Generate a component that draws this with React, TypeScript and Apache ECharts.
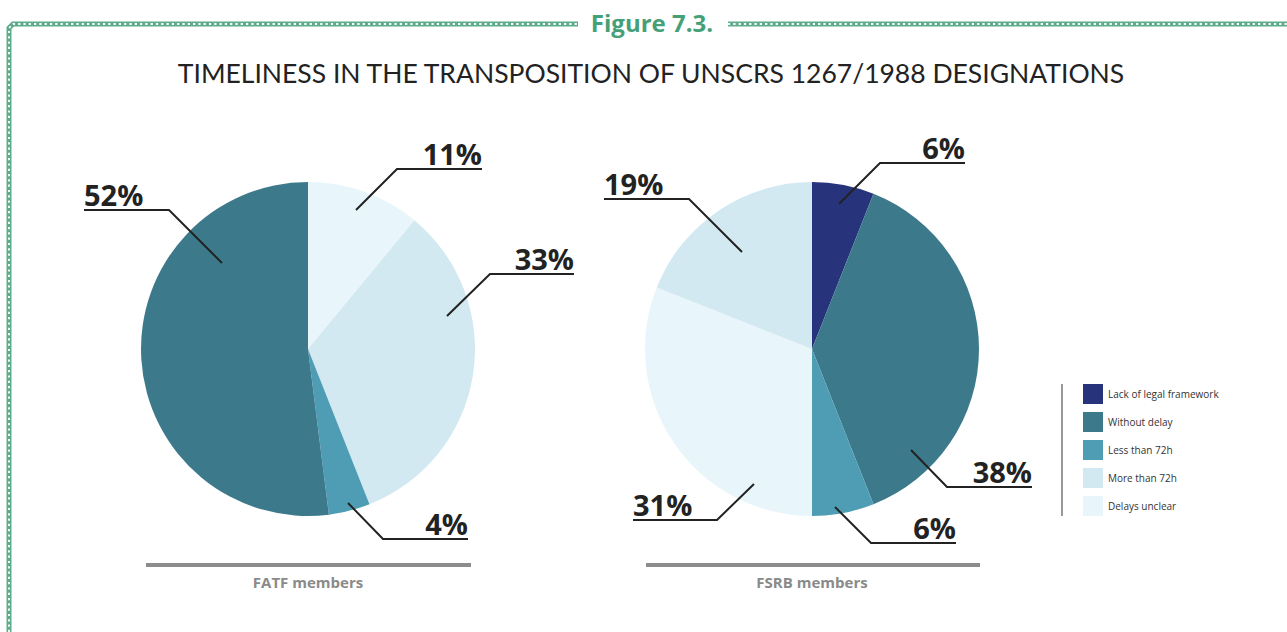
import React, { useEffect, useRef } from "react";
import * as echarts from "echarts";

const categories = ["Lack of legal framework", "Without delay", "Less than 72h", "More than 72h", "Delays unclear"];
const categoryColors = ["#27347c", "#3c7a8b", "#4f9db4", "#d3e9f1", "#e8f5fb"];

// FATF members, clockwise from 12 o'clock
const fatfNames = ["Delays unclear", "More than 72h", "Less than 72h", "Without delay"];
const fatfValues = [11, 33, 4, 52];

// FSRB members, clockwise from 12 o'clock
const fsrbNames = ["Lack of legal framework", "Without delay", "Less than 72h", "Delays unclear", "More than 72h"];
const fsrbValues = [6, 38, 6, 31, 19];

const titleText = "TIMELINESS IN THE TRANSPOSITION OF UNSCRS 1267/1988 DESIGNATIONS";
const figureText = "Figure 7.3.";
const groupLabels = ["FATF members", "FSRB members"];

// layout: pie centres and radius
const CENTERS = [[308, 349], [812, 349]];
const RADIUS = 167;
// leader layout relative to the pie centre: [start, elbow, end]
const LEADERS = [
  [[48, -139], [89, -180], [174, -180]],
  [[139, -33], [182, -75], [266, -75]],
  [[40, 154], [75, 190], [160, 190]],
  [[-86, -86], [-139, -139], [-224, -139]],
];
const LEADERS2 = [
  [[27, -145], [68, -186], [153, -186]],
  [[99, 101], [135, 138], [220, 138]],
  [[23, 158], [59, 194], [144, 194]],
  [[-58, 135], [-95, 171], [-179, 171]],
  [[-70, -97], [-123, -150], [-208, -150]],
];

const colorOf = (n: string) => categoryColors[categories.indexOf(n)];

function makeSeries(idx: number, names: string[], values: number[], leaders: number[][][]) {
  const [cx, cy] = CENTERS[idx];
  return {
    type: "pie",
    center: [cx, cy],
    radius: RADIUS,
    startAngle: 90,
    clockwise: true,
    silent: true,
    data: names.map((n, i) => ({ name: n, value: values[i], itemStyle: { color: colorOf(n) } })),
    itemStyle: { borderWidth: 0 },
    label: {
      show: true,
      position: "outside",
      formatter: "{c}%",
      fontFamily: "Open Sans",
      fontWeight: "bold",
      fontSize: 29,
      color: "#222222",
    },
    labelLine: { show: false },
    labelLayout: (p: any) => {
      const l = leaders[p.dataIndex];
      const right = l[2][0] > l[1][0];
      return {
        x: cx + l[2][0],
        y: cy + l[2][1] - 1,
        align: right ? "right" : "left",
        verticalAlign: "bottom",
      };
    },
  };
}

function leaderGraphics(idx: number, leaders: number[][][]) {
  const [cx, cy] = CENTERS[idx];
  return leaders.map((l) => ({
    type: "polyline",
    z: 10,
    shape: { points: l.map((q) => [cx + q[0], cy + q[1]]) },
    style: { stroke: "#222222", lineWidth: 2, fill: null },
  }));
}

export default function App() {
  const ref = useRef<HTMLDivElement>(null);
  useEffect(() => {
    if (!ref.current) return;
    const chart = echarts.init(ref.current, null, { renderer: "svg" });
    const green = "#5fac8b";
    const chainOuter = { stroke: green, lineWidth: 5, fill: null };
    const chainInner = { stroke: "#ffffff", lineWidth: 1.8, lineDash: [2.2, 3.1], fill: null };
    chart.setOption({
      animation: false,
      backgroundColor: "#ffffff",
      legend: {
        orient: "vertical",
        left: 1083,
        top: 384,
        padding: 0,
        itemWidth: 20,
        itemHeight: 20,
        itemGap: 8,
        icon: "rect",
        selectedMode: false,
        data: categories,
        textStyle: { fontFamily: "Open Sans", fontSize: 10, color: "#333333" },
      },
      graphic: [
        { type: "polyline", shape: { points: [[9, 632], [9, 28], [13, 24], [578, 24]] }, style: chainOuter, z: 1 },
        { type: "polyline", shape: { points: [[9, 632], [9, 28], [13, 24], [578, 24]] }, style: chainInner, z: 2 },
        { type: "line", shape: { x1: 728, y1: 24, x2: 1287, y2: 24 }, style: chainOuter, z: 1 },
        { type: "line", shape: { x1: 728, y1: 24, x2: 1287, y2: 24 }, style: chainInner, z: 2 },
        {
          type: "text", x: 652, y: 22, z: 3,
          style: { text: figureText, fill: "#46a077", font: "bold 24px 'Open Sans'", align: "center", verticalAlign: "middle" },
        },
        {
          type: "text", x: 651, y: 73, z: 3,
          style: { text: titleText, fill: "#222222", font: "26.5px Lato", align: "center", verticalAlign: "middle" },
        },
        { type: "rect", shape: { x: 146, y: 563, width: 325, height: 4 }, style: { fill: "#8c8c8c" } },
        { type: "rect", shape: { x: 646, y: 563, width: 334, height: 4 }, style: { fill: "#8c8c8c" } },
        {
          type: "text", x: 308, y: 582,
          style: { text: groupLabels[0], fill: "#8a8a8a", font: "bold 15px 'Open Sans'", align: "center", verticalAlign: "middle" },
        },
        {
          type: "text", x: 812, y: 582,
          style: { text: groupLabels[1], fill: "#8a8a8a", font: "bold 15px 'Open Sans'", align: "center", verticalAlign: "middle" },
        },
        { type: "line", shape: { x1: 1062, y1: 384, x2: 1062, y2: 516 }, style: { stroke: "#333333", lineWidth: 1 } },
        ...leaderGraphics(0, LEADERS),
        ...leaderGraphics(1, LEADERS2),
      ],
      series: [
        makeSeries(0, fatfNames, fatfValues, LEADERS),
        makeSeries(1, fsrbNames, fsrbValues, LEADERS2),
      ],
    });
    return () => chart.dispose();
  }, []);
  return <div ref={ref} style={{ position: "fixed", left: 0, top: 0, width: 1287, height: 632 }} />;
}
